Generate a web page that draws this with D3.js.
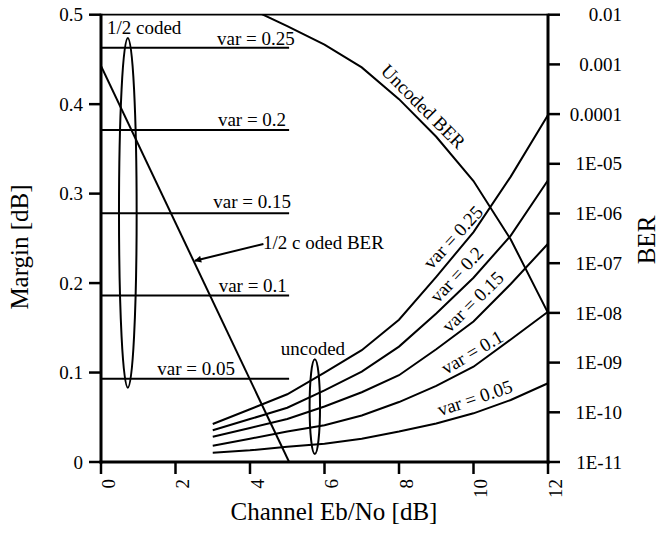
<!DOCTYPE html>
<html><head><meta charset="utf-8">
<script src="https://cdn.jsdelivr.net/npm/d3@7"></script>
<style>
body{margin:0;background:#fff}
text{font-family:"Liberation Serif","Times New Roman",serif;fill:#000}
</style>
</head><body>
<svg id="c" width="665" height="537"></svg>
<script>
// ---- data ----
const xTicks = [0, 2, 4, 6, 8, 10, 12];
const marginTicks = [0, 0.1, 0.2, 0.3, 0.4, 0.5];
const marginTickLabels = ["0", "0.1", "0.2", "0.3", "0.4", "0.5"];
const berTicks = [1e-11, 1e-10, 1e-9, 1e-8, 1e-7, 1e-6, 1e-5, 1e-4, 1e-3, 1e-2];
const berTickLabels = ["1E-11", "1E-10", "1E-09", "1E-08", "1E-07", "1E-06", "1E-05", "0.0001", "0.001", "0.01"];

const varLabels = ["var = 0.25", "var = 0.2", "var = 0.15", "var = 0.1", "var = 0.05"];
// 1/2 coded margin (flat lines)
const codedEbNo = [0, 5.05];
const codedMargin = [0.463, 0.371, 0.278, 0.186, 0.093];
// uncoded margin curves
const uncodedEbNo = [3, 4, 5, 6, 7, 8, 9, 10, 11, 12];
const uncodedMargin025 = [0.0425, 0.059, 0.0757, 0.100, 0.125, 0.159, 0.207, 0.257, 0.319, 0.388];
const uncodedMargin020 = [0.0354, 0.048, 0.0607, 0.080, 0.101, 0.129, 0.166, 0.206, 0.253, 0.315];
const uncodedMargin015 = [0.0283, 0.038, 0.048, 0.062, 0.078, 0.097, 0.126, 0.157, 0.199, 0.244];
const uncodedMargin010 = [0.0182, 0.026, 0.034, 0.041, 0.052, 0.067, 0.085, 0.1065, 0.137, 0.168];
const uncodedMargin005 = [0.0104, 0.013, 0.017, 0.0205, 0.026, 0.034, 0.043, 0.0544, 0.0693, 0.088];
// BER curves (right axis)
const uncodedBerEbNo = [4, 5, 6, 7, 8, 9, 10, 11, 12];
const uncodedBer = [1.33e-2, 5.9e-3, 2.5e-3, 8.7e-4, 2e-4, 3.5e-5, 4.5e-6, 3e-7, 1e-8];
const codedBerEbNo = [0, 5.05];
const codedBer = [9.3e-4, 1e-11];

// ---- layout ----
const svg = d3.select("#c");
const x = d3.scaleLinear().domain([0, 12]).range([101, 548]);
const y = d3.scaleLinear().domain([0, 0.5]).range([462, 14.7]);
const yR = d3.scaleLog().domain([1e-11, 1e-2]).range([462, 14.7]);

svg.append("defs").append("clipPath").attr("id", "plot")
  .append("rect").attr("x", x(0)).attr("y", y(0.5)).attr("width", x(12) - x(0)).attr("height", y(0) - y(0.5));
svg.select("defs").append("marker").attr("id", "arr").attr("viewBox", "0 0 10 10")
  .attr("refX", 9).attr("refY", 5).attr("markerWidth", 9).attr("markerHeight", 7)
  .attr("markerUnits", "userSpaceOnUse").attr("orient", "auto")
  .append("path").attr("d", "M0,0L10,5L0,10z").attr("fill", "#000");

const line = d3.line();
const g = svg.append("g").attr("fill", "none").attr("stroke", "#000");

// top border
g.append("line").attr("x1", x(0)).attr("x2", x(12)).attr("y1", y(0.5)).attr("y2", y(0.5)).attr("stroke-width", 1.8);

// coded flat lines
codedMargin.forEach(m => {
  g.append("path").attr("d", line(codedEbNo.map(e => [x(e), y(m)]))).attr("stroke-width", 2);
});
// uncoded margin curves
[uncodedMargin025, uncodedMargin020, uncodedMargin015, uncodedMargin010, uncodedMargin005].forEach(arr => {
  g.append("path").attr("d", line(uncodedEbNo.map((e, i) => [x(e), y(arr[i])]))).attr("stroke-width", 2);
});
// BER curves
g.append("path").attr("clip-path", "url(#plot)")
  .attr("d", line(uncodedBerEbNo.map((e, i) => [x(e), yR(uncodedBer[i])]))).attr("stroke-width", 2);
g.append("path").attr("clip-path", "url(#plot)")
  .attr("d", line(codedBerEbNo.map((e, i) => [x(e), yR(codedBer[i])]))).attr("stroke-width", 2);

// ellipses
g.append("ellipse").attr("cx", x(0.72)).attr("cy", y(0.2785))
  .attr("rx", x(0.72 + 0.237) - x(0.72)).attr("ry", y(0.083) - y(0.2785)).attr("stroke-width", 2);
g.append("ellipse").attr("cx", x(5.74)).attr("cy", y(0.0619))
  .attr("rx", x(5.74 + 0.14) - x(5.74)).attr("ry", y(0.0089) - y(0.0619)).attr("stroke-width", 2);

// arrow
g.append("line").attr("x1", x(4.36)).attr("y1", y(0.2437)).attr("x2", x(2.52)).attr("y2", y(0.225))
  .attr("stroke-width", 2).attr("marker-end", "url(#arr)");

// axes lines
const ax = svg.append("g").attr("stroke", "#000");
ax.append("line").attr("x1", x(0)).attr("x2", x(0)).attr("y1", y(0) + 1.5).attr("y2", y(0.5) - 1).attr("stroke-width", 3);
ax.append("line").attr("x1", x(12)).attr("x2", x(12)).attr("y1", y(0) + 1.5).attr("y2", y(0.5) - 1).attr("stroke-width", 3);
ax.append("line").attr("x1", x(0) - 1.5).attr("x2", x(12) + 1.5).attr("y1", y(0)).attr("y2", y(0)).attr("stroke-width", 3);

// ticks
marginTicks.forEach((t, i) => {
  ax.append("line").attr("x1", x(0) - 12).attr("x2", x(0)).attr("y1", y(t)).attr("y2", y(t)).attr("stroke-width", 2.5);
  svg.append("text").attr("x", 83).attr("y", y(t)).attr("dy", "0.35em").attr("text-anchor", "end")
    .attr("font-size", 19).text(marginTickLabels[i]);
});
berTicks.forEach((t, i) => {
  ax.append("line").attr("x1", x(12)).attr("x2", x(12) + 12).attr("y1", yR(t)).attr("y2", yR(t)).attr("stroke-width", 2.5);
  svg.append("text").attr("x", 622).attr("y", yR(t)).attr("dy", "0.35em").attr("text-anchor", "end")
    .attr("font-size", 19).text(berTickLabels[i]);
});
xTicks.forEach(t => {
  ax.append("line").attr("x1", x(t)).attr("x2", x(t)).attr("y1", y(0)).attr("y2", y(0) + 12).attr("stroke-width", 2.5);
  svg.append("text").attr("transform", `translate(${x(t) + 13.5},479) rotate(-90)`)
    .attr("text-anchor", "end").attr("font-size", 19).text(t);
});

// axis titles
svg.append("text").attr("x", 334).attr("y", 520).attr("text-anchor", "middle").attr("font-size", 25).text("Channel Eb/No [dB]");
svg.append("text").attr("transform", "translate(28,247) rotate(-90)").attr("text-anchor", "middle").attr("font-size", 25).text("Margin [dB]");
svg.append("text").attr("transform", "translate(655,240) rotate(-90)").attr("text-anchor", "middle").attr("font-size", 25).text("BER");

// annotations
svg.append("text").attr("x", x(0.16)).attr("y", y(0.478)).attr("font-size", 19).text("1/2 coded");
const flatLabelPos = [[5.20, 0.466], [4.97, 0.3756], [5.10, 0.284], [4.99, 0.1904], [3.60, 0.0973]];
varLabels.forEach((s, i) => {
  svg.append("text").attr("x", x(flatLabelPos[i][0])).attr("y", y(flatLabelPos[i][1]))
    .attr("text-anchor", "end").attr("font-size", 19).text(s);
});
const curveLabelPos = [[9.58, 0.2464, -47.5], [9.67, 0.2045, -47], [10.10, 0.174, -44.5], [10.05, 0.1166, -30.5], [10.09, 0.0648, -18.4]];
varLabels.forEach((s, i) => {
  const p = curveLabelPos[i];
  svg.append("text").attr("transform", `translate(${x(p[0])},${y(p[1])}) rotate(${p[2]})`)
    .attr("text-anchor", "middle").attr("font-size", 19).text(s);
});
svg.append("text").attr("transform", `translate(${x(8.53)},${yR(1.15e-4)}) rotate(45)`)
  .attr("text-anchor", "middle").attr("font-size", 19).text("Uncoded BER");
svg.append("text").attr("x", x(5.69)).attr("y", y(0.1196)).attr("text-anchor", "middle").attr("font-size", 19).text("uncoded");
svg.append("text").attr("x", x(4.35)).attr("y", y(0.238)).attr("font-size", 19).text("1/2 c oded BER");
</script>
</body></html>
